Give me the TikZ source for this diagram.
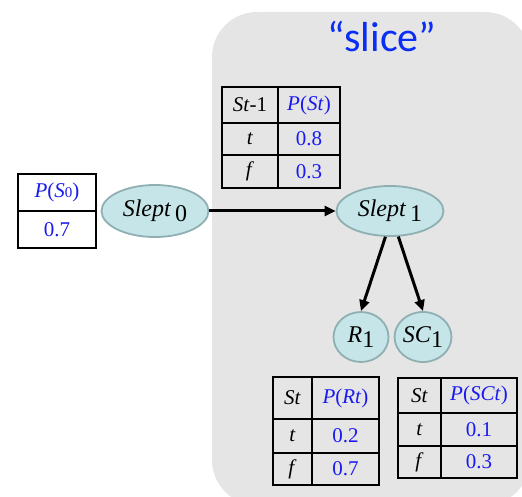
\documentclass[tikz,border=0pt]{standalone}
\usepackage{fontspec}
\setmainfont{Liberation Serif}
\newfontfamily\slicefont{Carlito}
\usetikzlibrary{arrows.meta,shapes.geometric}
\definecolor{probblue}{HTML}{1A1AF0}
\definecolor{sliceblue}{HTML}{0A2EF5}
\definecolor{panelgray}{HTML}{E5E5E5}
\definecolor{nodefill}{HTML}{C5E5E8}
\definecolor{nodeline}{HTML}{8FAFB2}
\tikzset{
  cell/.style={inner sep=0pt, font=\fontsize{21}{23}\selectfont},
  pcell/.style={cell, text=probblue},
  tabframe/.style={draw=black, line width=2.8pt},
  tabline/.style={draw=black, line width=1.2pt},
  bnode/.style={ellipse, draw=nodeline, line width=1.8pt, fill=nodefill, inner sep=0pt, font=\fontsize{24}{26}\selectfont},
  link/.style={line width=3pt, -{Triangle[length=11pt,width=10pt]}}
}
\begin{document}
\begin{tikzpicture}[x=1pt,y=-1pt]
\useasboundingbox (0,0) rectangle (522,497);
\begin{scope}
\clip (0,0) rectangle (522,497);
\fill[panelgray, rounded corners=45pt] (212,12) rectangle (530,505);
\end{scope}
\node[font=\slicefont\fontsize{42}{42}\selectfont, text=sliceblue] (title) at (382,37) {“slice”};

% top CPT
\draw[tabline] (278,87) -- (278,188) (222,123) -- (340,123) (222,155) -- (340,155);
\draw[tabframe] (222,87) rectangle (340,188);
\node[cell] (t1h1) at (250,105) {\textit{St}-1};
\node[pcell] (t1h2) at (309,105) {\textit{P}(\textit{St})};
\node[cell] (t1a1) at (250,139) {\textit{t}};
\node[pcell] (t1a2) at (309,139) {0.8};
\node[cell] (t1b1) at (250,171.5) {\textit{f}};
\node[pcell] (t1b2) at (309,171.5) {0.3};

% prior table
\fill[white] (18,174) rectangle (96,248);
\draw[tabline] (18,211) -- (96,211);
\draw[tabframe] (18,174) rectangle (96,248);
\node[pcell] (p0h) at (57,192.5) {\textit{P}(\textit{S}{\fontsize{15}{15}\selectfont 0})};
\node[pcell] (p0v) at (57,229.5) {0.7};

% R table
\draw[tabline] (312,377) -- (312,485) (273,419) -- (379,419) (273,453) -- (379,453);
\draw[tabframe] (273,377) rectangle (379,485);
\node[cell] (rh1) at (292.5,398) {\textit{St}};
\node[pcell] (rh2) at (345.5,398) {\textit{P}(\textit{Rt})};
\node[cell] (ra1) at (292.5,436) {\textit{t}};
\node[pcell] (ra2) at (345.5,436) {0.2};
\node[cell] (rb1) at (292.5,469) {\textit{f}};
\node[pcell] (rb2) at (345.5,469) {0.7};

% SC table
\draw[tabline] (441,378) -- (441,478) (398,413) -- (517,413) (398,446) -- (517,446);
\draw[tabframe] (398,378) rectangle (517,478);
\node[cell] (sh1) at (419.5,395.5) {\textit{St}};
\node[pcell] (sh2) at (479,395.5) {\textit{P}(\textit{SCt})};
\node[cell] (sa1) at (419.5,429.5) {\textit{t}};
\node[pcell] (sa2) at (479,429.5) {0.1};
\node[cell] (sb1) at (419.5,462) {\textit{f}};
\node[pcell] (sb2) at (479,462) {0.3};

% network nodes
\node[bnode, minimum width=107pt, minimum height=52pt] (s0) at (155,211) {\textit{Slept}\,\raisebox{-5pt}{0}};
\node[bnode, minimum width=107pt, minimum height=50pt] (s1) at (390,211) {\textit{Slept}\,\raisebox{-5pt}{1}};
\node[bnode, minimum width=55pt, minimum height=50pt] (r1) at (361,337) {\textit{R}\raisebox{-5pt}{1}};
\node[bnode, minimum width=56pt, minimum height=50pt] (sc1) at (423,337) {\textit{SC}\raisebox{-5pt}{1}};

\draw[link] (s0.east) -- (s1.west);
\draw[link] (s1.-100) -- (r1.north);
\draw[link] (s1.-72) -- (sc1.north);
\end{tikzpicture}
\end{document}
